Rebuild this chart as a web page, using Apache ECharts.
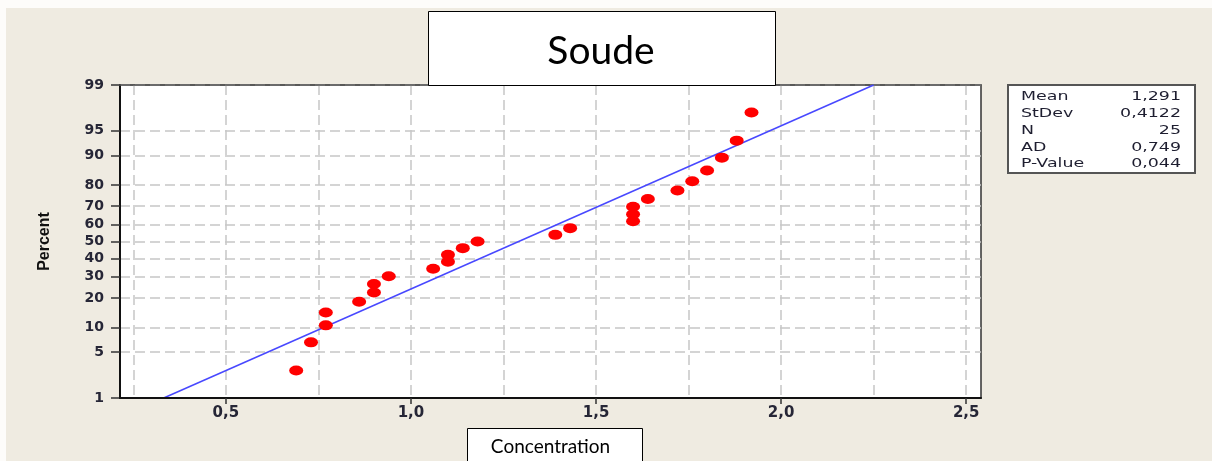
<!DOCTYPE html>
<html>
<head>
<meta charset="utf-8">
<script src="https://cdn.jsdelivr.net/npm/echarts@6/dist/echarts.min.js"></script>
<style>
  html, body { margin: 0; padding: 0; background: #fff; }
  #chart { width: 1212px; height: 461px; }
</style>
</head>
<body>
<div id="chart"></div>
<script>
// sorted concentration values
const concentration = [0.69, 0.73, 0.77, 0.77, 0.86, 0.90, 0.90, 0.94, 1.06, 1.10, 1.10, 1.14, 1.18,
  1.39, 1.43, 1.60, 1.60, 1.60, 1.64, 1.72, 1.76, 1.80, 1.84, 1.88, 1.92];
// plotted percent of each point
const percent = [2.76, 6.69, 10.63, 14.57, 18.50, 22.44, 26.38, 30.31, 34.25, 38.19, 42.13, 46.06, 50.00,
  53.94, 57.87, 61.81, 65.75, 69.69, 73.62, 77.56, 81.50, 85.43, 89.37, 93.31, 97.24];
// fitted normal line (ends at 1% and 99%)
const fitX = [0.332, 2.250];
const fitP = [1, 99];
const percentTicks = [1, 5, 10, 20, 30, 40, 50, 60, 70, 80, 90, 95, 99];
const xLabelTicks = [0.5, 1.0, 1.5, 2.0, 2.5];
const xGridTicks = [0.25, 0.5, 0.75, 1.0, 1.25, 1.5, 1.75, 2.0, 2.25, 2.5];
const statNames = ['Mean', 'StDev', 'N', 'AD', 'P-Value'];
const statValues = ['1,291', '0,4122', '25', '0,749', '0,044'];

// inverse normal cdf (probability scale of the y axis)
function probit(p) {
  const a = [-3.969683028665376e+01, 2.209460984245205e+02, -2.759285104469687e+02, 1.383577518672690e+02, -3.066479806614716e+01, 2.506628277459239e+00];
  const b = [-5.447609879822406e+01, 1.615858368580409e+02, -1.556989798598866e+02, 6.680131188771972e+01, -1.328068155288572e+01];
  const c = [-7.784894002430293e-03, -3.223964580411365e-01, -2.400758277161838e+00, -2.549732539343734e+00, 4.374664141464968e+00, 2.938163982698783e+00];
  const d = [7.784695709041462e-03, 3.224671290700398e-01, 2.445134137142996e+00, 3.754408661907416e+00];
  const lo = 0.02425;
  let q, r;
  if (p < lo) {
    q = Math.sqrt(-2 * Math.log(p));
    return (((((c[0]*q+c[1])*q+c[2])*q+c[3])*q+c[4])*q+c[5]) / ((((d[0]*q+d[1])*q+d[2])*q+d[3])*q+1);
  }
  if (p > 1 - lo) {
    q = Math.sqrt(-2 * Math.log(1 - p));
    return -(((((c[0]*q+c[1])*q+c[2])*q+c[3])*q+c[4])*q+c[5]) / ((((d[0]*q+d[1])*q+d[2])*q+d[3])*q+1);
  }
  q = p - 0.5; r = q * q;
  return (((((a[0]*r+a[1])*r+a[2])*r+a[3])*r+a[4])*r+a[5])*q / (((((b[0]*r+b[1])*r+b[2])*r+b[3])*r+b[4])*r+1);
}
const z = (pct) => probit(pct / 100);
const zTicks = percentTicks.map(z);

const labelColor = '#262636';
const gridLine = { color: '#c6c6c6', width: 1.5, type: [10, 5] };

const chart = echarts.init(document.getElementById('chart'));
chart.setOption({
  backgroundColor: '#efebe1',
  animation: false,
  title: {
    text: 'Soude',
    left: 601,
    top: 32,
    textAlign: 'center',
    padding: 0,
    z: 8,
    textStyle: { fontFamily: 'Lato', fontWeight: 'normal', fontSize: 39, color: '#000' }
  },
  grid: {
    left: 120, top: 85, width: 861, height: 315,
    show: true, backgroundColor: '#fff', borderColor: '#333', borderWidth: 1.5
  },
  xAxis: [
    {
      type: 'value', min: 0.214, max: 2.54, position: 'top', z: 3,
      axisLine: { show: true, onZero: false, lineStyle: { color: '#555', width: 1.5 } },
      axisTick: { show: false, customValues: xGridTicks },
      axisLabel: { show: false },
      splitLine: { show: true, lineStyle: gridLine }
    },
    {
      type: 'value', min: 0.214, max: 2.54, position: 'bottom', z: 4,
      name: 'Concentration', nameLocation: 'middle', nameGap: 39,
      nameTextStyle: { fontFamily: 'Lato', fontSize: 19, color: '#000' },
      axisLine: { show: true, onZero: false, lineStyle: { color: '#111', width: 2 } },
      axisTick: { show: true, length: 6, customValues: xLabelTicks, lineStyle: { color: '#333', width: 1.5 } },
      axisLabel: {
        customValues: xLabelTicks, margin: 8,
        fontFamily: 'DejaVu Sans', fontWeight: 'bold', fontSize: 15, color: labelColor,
        formatter: (v) => v.toFixed(1).replace('.', ',')
      },
      splitLine: { show: false }
    }
  ],
  yAxis: {
    type: 'value', min: z(1), max: z(99),
    name: 'Percent', nameLocation: 'middle', nameGap: 67,
    nameTextStyle: { fontFamily: 'Liberation Sans', fontWeight: 'bold', fontSize: 16, color: '#111' },
    axisLine: { show: true, onZero: false, lineStyle: { color: '#111', width: 2 } },
    axisTick: { show: true, length: 9, customValues: zTicks, lineStyle: { color: '#333', width: 1.5 } },
    axisLabel: {
      customValues: zTicks, margin: 16,
      fontFamily: 'DejaVu Sans', fontWeight: 'bold', fontSize: 14, color: labelColor,
      formatter: (v) => {
        let best = 0;
        zTicks.forEach((t, i) => { if (Math.abs(t - v) < Math.abs(zTicks[best] - v)) best = i; });
        return String(percentTicks[best]);
      }
    },
    splitLine: { show: true, lineStyle: gridLine }
  },
  series: [
    {
      type: 'line',
      xAxisIndex: 1,
      data: fitX.map((x, i) => [x, z(fitP[i])]),
      symbol: 'none',
      lineStyle: { color: '#4848ff', width: 1.5 },
      z: 3
    },
    {
      type: 'scatter',
      xAxisIndex: 1,
      data: concentration.map((x, i) => [x, z(percent[i])]),
      symbol: 'circle',
      symbolSize: [14, 10],
      itemStyle: { color: '#ff0000', opacity: 1 },
      z: 4
    }
  ],
  graphic: [
    { type: 'rect', z: -1, shape: { x: 0, y: 0, width: 6, height: 461 }, style: { fill: '#fdfcfa' } },
    { type: 'rect', z: -1, shape: { x: 0, y: 0, width: 1212, height: 8 }, style: { fill: '#fdfcfa' } },
    { type: 'rect', z: 5, shape: { x: 428.5, y: 11.5, width: 347, height: 74 },
      style: { fill: '#fff', stroke: '#000', lineWidth: 1 } },
    { type: 'rect', z: 1, shape: { x: 467.5, y: 428.5, width: 175, height: 40 },
      style: { fill: '#fff', stroke: '#000', lineWidth: 1 } },
    {
      type: 'group',
      z: 5,
      children: [
        { type: 'rect', shape: { x: 1008, y: 85, width: 187, height: 88 },
          style: { fill: '#fff', stroke: '#555', lineWidth: 2 } }
      ].concat(statNames.map((name, i) => ({
        type: 'text', x: 1021, y: 97 + i * 16.8, scaleX: 1.45,
        style: { text: name, fill: '#1e1e30', font: '12px "DejaVu Sans"', textAlign: 'left', textVerticalAlign: 'middle' }
      }))).concat(statValues.map((val, i) => ({
        type: 'text', x: 1181, y: 97 + i * 16.8, scaleX: 1.45,
        style: { text: val, fill: '#1e1e30', font: '12px "DejaVu Sans"', textAlign: 'right', textVerticalAlign: 'middle' }
      })))
    }
  ]
});
</script>
</body>
</html>
